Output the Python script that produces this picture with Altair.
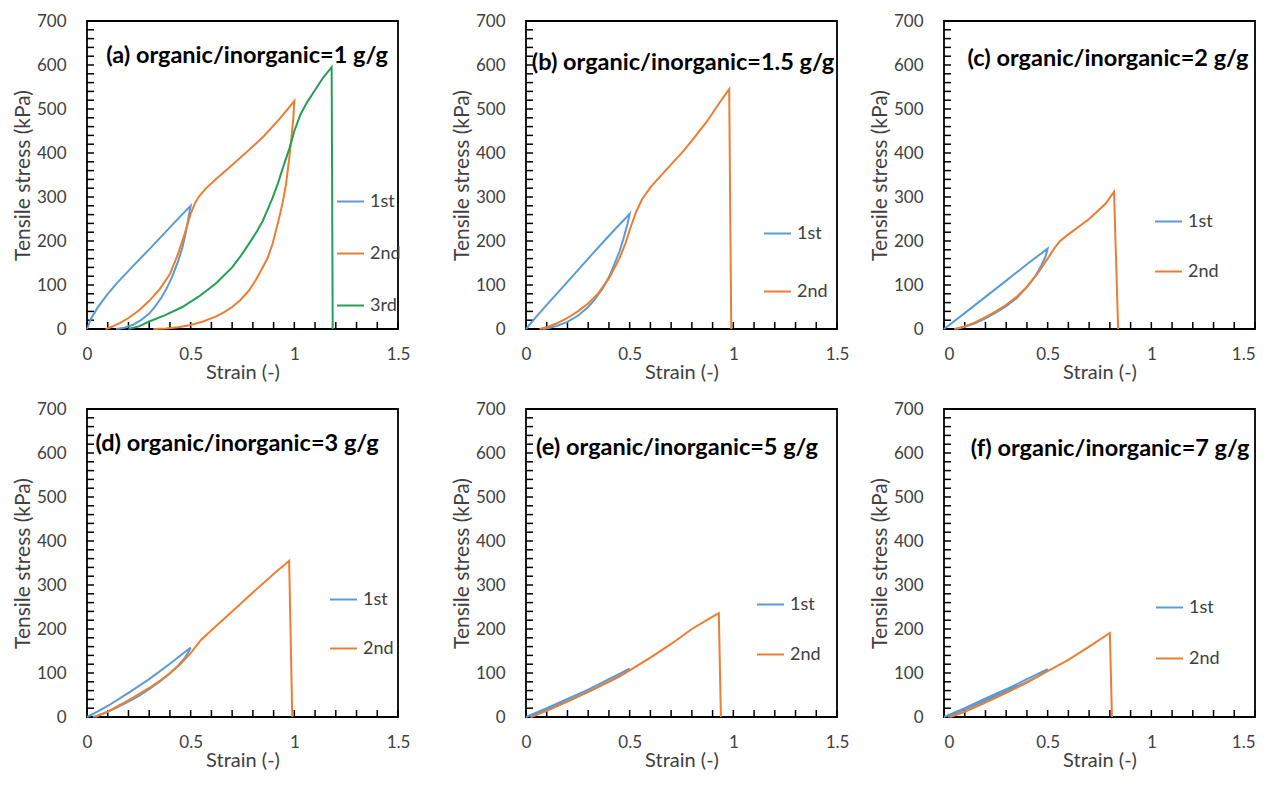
import altair as alt
import pandas as pd

# ---------------- data ----------------
X_LABELS = [0, 0.5, 1, 1.5]
Y_LABELS = [0, 100, 200, 300, 400, 500, 600, 700]
X_MINOR = [round(0.1 * k, 1) for k in range(0, 16)]
Y_MINOR = list(range(0, 701, 20))

CYCLES = ["1st", "2nd", "3rd"]
CYCLE_COLORS = ["#5B9BD5", "#ED7D31", "#23A052"]

TITLES = [
    "(a) organic/inorganic=1 g/g",
    "(b) organic/inorganic=1.5 g/g",
    "(c) organic/inorganic=2 g/g",
    "(d) organic/inorganic=3 g/g",
    "(e) organic/inorganic=5 g/g",
    "(f) organic/inorganic=7 g/g",
]

# panel (a)
A1_X = [0, 0.02, 0.05, 0.1, 0.15, 0.2, 0.25, 0.3, 0.35, 0.4, 0.45, 0.5,
        0.49, 0.48, 0.47, 0.46, 0.44, 0.41, 0.385, 0.36, 0.33, 0.3, 0.26, 0.22, 0.18, 0.14]
A1_Y = [0, 24, 48, 80, 107, 132, 157, 181, 206, 231, 256, 280,
        255, 228, 205, 185, 155, 118, 93, 72, 52, 35, 20, 9, 3, 0]
A2_X = [0.09, 0.12, 0.16, 0.2, 0.25, 0.3, 0.35, 0.4, 0.44, 0.47, 0.5, 0.52, 0.54, 0.57, 0.62, 0.7, 0.77, 0.85, 0.93, 1.0,
        0.995, 0.985, 0.976, 0.96, 0.945, 0.927, 0.895, 0.87, 0.847, 0.815, 0.782, 0.74, 0.7, 0.66, 0.62, 0.56, 0.5, 0.44, 0.38, 0.32]
A2_Y = [0, 5, 14, 25, 42, 64, 90, 125, 172, 215, 262, 285, 301, 318, 340, 373, 402, 437, 478, 518,
        478, 430, 390, 330, 290, 253, 193, 160, 140, 112, 88, 66, 50, 38, 28, 17, 9, 4, 1, 0]
A3_X = [0.2, 0.25, 0.3, 0.38, 0.46, 0.54, 0.62, 0.7, 0.74, 0.78, 0.82, 0.847, 0.87, 0.895, 0.92, 0.944, 0.976,
        1.0, 1.03, 1.06, 1.1, 1.14, 1.18, 1.185]
A3_Y = [0, 6, 17, 32, 50, 74, 103, 140, 165, 193, 222, 245, 270, 298, 330, 365, 410,
        450, 488, 514, 543, 572, 595, 0]

# panel (b)
B1_X = [0, 0.05, 0.1, 0.2, 0.3, 0.4, 0.5, 0.49, 0.47, 0.45, 0.42, 0.4, 0.37, 0.33, 0.3, 0.25, 0.2, 0.15, 0.1, 0.08]
B1_Y = [0, 28, 55, 107, 160, 212, 262, 240, 205, 175, 140, 118, 92, 66, 50, 30, 16, 7, 1, 0]
B2_X = [0.065, 0.1, 0.15, 0.2, 0.25, 0.3, 0.35, 0.4, 0.45, 0.48, 0.5, 0.53, 0.56, 0.6, 0.65, 0.7, 0.76, 0.8, 0.87, 0.93, 0.98, 0.99]
B2_Y = [0, 4, 13, 25, 40, 58, 82, 115, 160, 195, 225, 265, 295, 322, 348, 374, 405, 428, 470, 512, 545, 0]

# panel (c)
C1_X = [0, 0.1, 0.2, 0.3, 0.4, 0.5, 0.49, 0.47, 0.44, 0.4, 0.35, 0.3, 0.25, 0.2, 0.15, 0.1, 0.06]
C1_Y = [0, 36, 73, 110, 147, 183, 165, 145, 120, 95, 70, 52, 37, 24, 13, 5, 0]
C2_X = [0.05, 0.1, 0.15, 0.2, 0.25, 0.3, 0.35, 0.4, 0.45, 0.5, 0.53, 0.56, 0.6, 0.7, 0.78, 0.82, 0.84]
C2_Y = [0, 6, 15, 27, 40, 55, 73, 96, 125, 160, 182, 200, 215, 250, 285, 312, 0]

# panel (d)
D1_X = [0, 0.05, 0.1, 0.2, 0.3, 0.4, 0.5, 0.49, 0.47, 0.44, 0.4, 0.35, 0.3, 0.25, 0.2, 0.15, 0.1, 0.05, 0.03]
D1_Y = [0, 12, 25, 55, 86, 121, 158, 148, 133, 117, 99, 80, 63, 48, 35, 23, 12, 3, 0]
D2_X = [0.04, 0.1, 0.15, 0.2, 0.25, 0.3, 0.35, 0.4, 0.45, 0.5, 0.55, 0.6, 0.7, 0.8, 0.9, 0.975, 0.99]
D2_Y = [0, 12, 25, 38, 52, 66, 82, 100, 120, 145, 175, 197, 240, 283, 325, 355, 0]

# panel (e)
E1_X = [0, 0.1, 0.2, 0.3, 0.4, 0.5, 0.48, 0.45, 0.4, 0.3, 0.2, 0.1, 0.05, 0.02]
E1_Y = [0, 20, 41, 62, 86, 110, 100, 92, 80, 57, 36, 16, 7, 0]
E2_X = [0.025, 0.1, 0.2, 0.3, 0.4, 0.5, 0.6, 0.7, 0.8, 0.9, 0.93, 0.94]
E2_Y = [0, 14, 35, 57, 81, 106, 135, 166, 200, 228, 236, 0]

# panel (f)
F1_X = [0, 0.1, 0.2, 0.3, 0.4, 0.5, 0.48, 0.45, 0.4, 0.3, 0.2, 0.1, 0.05, 0.02]
F1_Y = [0, 20, 42, 63, 86, 109, 100, 92, 80, 58, 37, 17, 7, 0]
F2_X = [0.03, 0.1, 0.2, 0.3, 0.4, 0.5, 0.6, 0.7, 0.8, 0.81]
F2_Y = [0, 12, 33, 55, 78, 104, 130, 160, 191, 0]

# ---------------- layout / style ----------------
W, H = 311, 308
FONT = "Lato"
TXT = "#404040"

X_SCALE = alt.Scale(domain=[0, 1.5], nice=False, zero=False)
Y_SCALE = alt.Scale(domain=[0, 700], nice=False)


def x_axis(flush):
    return alt.Axis(values=X_LABELS, format="~g", title="Strain (-)", labelFlush=flush,
                    labelOverlap=False, labelPadding=17, titlePadding=0, ticks=False, tickSize=0,
                    domain=False, grid=False, titleFontSize=20)


Y_AXIS = alt.Axis(values=Y_LABELS, title="Tensile stress (kPa)", labelFlush=False,
                  labelOverlap=False, labelPadding=21, titlePadding=3, ticks=False, tickSize=0,
                  domain=False, grid=False, titleFontSize=21)


def panel(title, series, title_xy, legend_xy, row_pad, flush=False):
    rows = []
    for name, xs, ys in series:
        for i, (x, y) in enumerate(zip(xs, ys)):
            rows.append({"strain": x, "stress": y, "cycle": name, "i": i})
    df = pd.DataFrame(rows)
    names = [s[0] for s in series]
    cols = [CYCLE_COLORS[CYCLES.index(n)] for n in names]
    xa = x_axis(flush)

    lines = alt.Chart(df).mark_line(strokeWidth=2).encode(
        x=alt.X("strain:Q", scale=X_SCALE, axis=xa),
        y=alt.Y("stress:Q", scale=Y_SCALE, axis=Y_AXIS),
        color=alt.Color("cycle:N", scale=alt.Scale(domain=names, range=cols),
                        legend=alt.Legend(orient="none", legendX=legend_xy[0], legendY=legend_xy[1],
                                          title=None, symbolType="stroke", symbolSize=729,
                                          symbolStrokeWidth=2, labelFont=FONT, labelFontSize=18,
                                          labelColor=TXT, rowPadding=row_pad, padding=0,
                                          labelOffset=5, direction="vertical")),
        order="i:Q",
    )
    # inward minor ticks drawn as tick marks
    yt = alt.Chart(pd.DataFrame({"stress": Y_MINOR})).mark_tick(
        color="#000000", orient="horizontal", size=7, thickness=1.5, opacity=1
    ).encode(
        y=alt.Y("stress:Q", scale=Y_SCALE, axis=Y_AXIS),
        x=alt.value(3.5),
    )
    xt = alt.Chart(pd.DataFrame({"strain": X_MINOR})).mark_tick(
        color="#000000", orient="vertical", size=7, thickness=1.5, opacity=1
    ).encode(
        x=alt.X("strain:Q", scale=X_SCALE, axis=xa),
        y=alt.value(H - 3.5),
    )
    txt = alt.Chart(pd.DataFrame({"t": [title]})).mark_text(
        font=FONT, fontSize=23.5, fontWeight="bold", color="black", align="center", baseline="middle"
    ).encode(text="t:N", x=alt.value(title_xy[0]), y=alt.value(title_xy[1]))
    return alt.layer(yt, xt, lines, txt).properties(width=W, height=H)


pa = panel(TITLES[0], [("1st", A1_X, A1_Y), ("2nd", A2_X, A2_Y), ("3rd", A3_X, A3_Y)],
           (160, 35), (249, 166), 28)
pb = panel(TITLES[1], [("1st", B1_X, B1_Y), ("2nd", B2_X, B2_Y)], (157, 42), (237, 198), 34)
pc = panel(TITLES[2], [("1st", C1_X, C1_Y), ("2nd", C2_X, C2_Y)], (164, 38), (210, 186), 26, True)
pd_ = panel(TITLES[3], [("1st", D1_X, D1_Y), ("2nd", D2_X, D2_Y)], (150, 35), (242, 176), 25)
pe = panel(TITLES[4], [("1st", E1_X, E1_Y), ("2nd", E2_X, E2_Y)], (151, 39), (230, 181), 26)
pf = panel(TITLES[5], [("1st", F1_X, F1_Y), ("2nd", F2_X, F2_Y)], (166, 40), (211, 184), 27, True)


def row(p1, p2, p3):
    inner = alt.hconcat(p1, p2, spacing=39).resolve_scale(color="independent").resolve_legend(color="independent")
    return alt.hconcat(inner, p3, spacing=18).resolve_scale(color="independent").resolve_legend(color="independent")


chart = alt.vconcat(row(pa, pb, pc), row(pd_, pe, pf), spacing=16).resolve_scale(
    color="independent").resolve_legend(color="independent").properties(
    padding={"left": 3, "top": 3, "right": 0, "bottom": 0}
).configure_view(stroke="#000000", strokeWidth=1.8).configure_axis(
    labelFont=FONT, labelFontSize=17, labelColor=TXT, titleFont=FONT,
    titleFontWeight="normal", titleColor=TXT
)

chart.save("out.html", embed_options={"renderer": "svg", "actions": False})
